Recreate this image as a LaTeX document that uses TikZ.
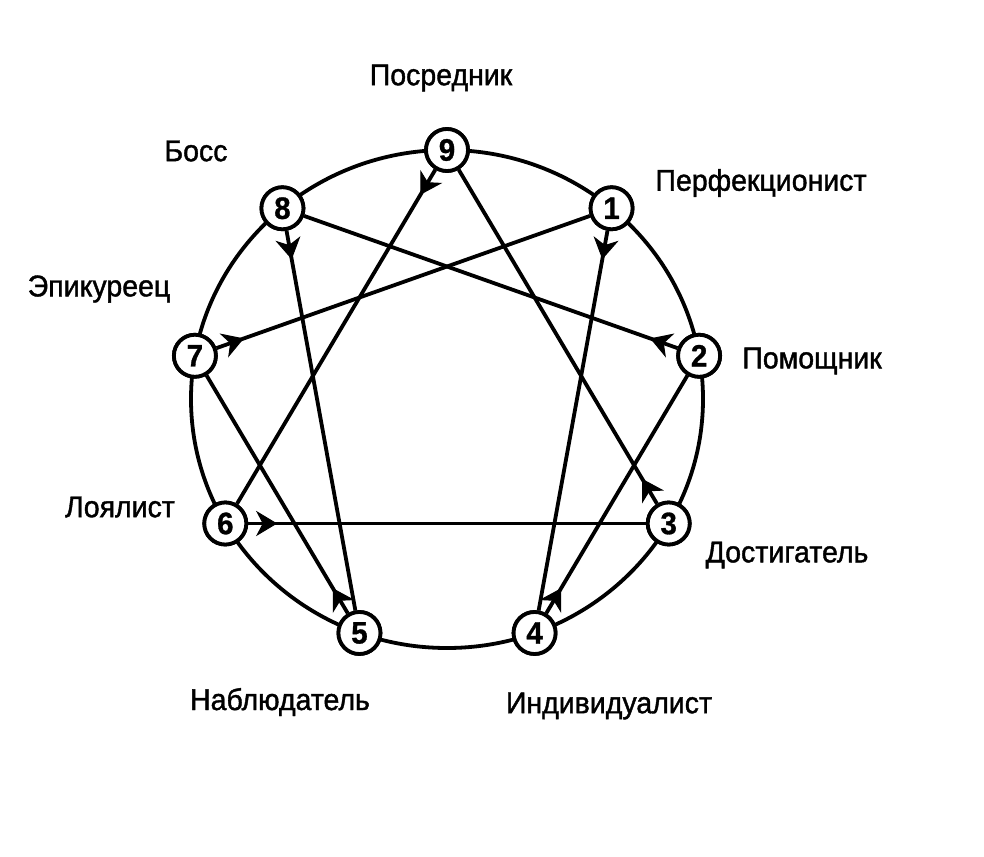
\documentclass[tikz,border=0pt]{standalone}
\usepackage{fontspec}
\setmainfont{Liberation Sans}[FakeStretch=0.95,FakeBold=1.3]
\newfontfamily\digitfont{Liberation Sans}[FakeStretch=0.95,FakeBold=1.0]
\usetikzlibrary{arrows.meta,calc}
\begin{document}
\begin{tikzpicture}[x=1pt,y=-1pt,
  numnode/.style={circle,draw,line width=3.8pt,fill=white,minimum size=42pt,inner sep=0pt,font=\digitfont\bfseries\fontsize{31}{31}\selectfont},
  lbl/.style={font=\fontsize{30}{30}\selectfont,inner sep=0pt},
  link/.style={line width=3.8pt},
  headshape/.style={line width=1pt,fill=black,line join=miter}]
\useasboundingbox (0,0) rectangle (984,856);
\draw[line width=3.8pt] (447,399) ellipse [x radius=256, y radius=249];
\foreach \n/\a in {9/0,1/40,2/80,3/120,4/160,5/200,6/240,7/280,8/320}{
  \node[numnode] (n\n) at ({447+256*sin(\a)},{399-249*cos(\a)}) {\n};
}
\foreach \s/\t/\L in {1/4/432,4/2/322,2/8/442,8/5/432,5/7/322,7/1/442,9/6/434,6/3/444,3/9/434}{
  \draw[link] (n\s) -- (n\t);
  \pgfmathsetmacro\ftp{51/\L}
  \pgfmathsetmacro\fbk{32/\L}
  \pgfmathsetmacro\fin{38/\L}
  \coordinate (tp) at ($(n\s.center)!\ftp!(n\t.center)$);
  \coordinate (bk) at ($(n\s.center)!\fbk!(n\t.center)$);
  \coordinate (in) at ($(n\s.center)!\fin!(n\t.center)$);
  \draw[headshape] (tp) -- ($(bk)!0.6!90:(tp)$) -- (in) -- ($(bk)!0.6!-90:(tp)$) -- cycle;
}
\foreach \n in {1,...,9}{\node[numnode] at (n\n) {\n};}
\node[lbl] (l9) at (441,78) {Посредник};
\node[lbl] (l8) at (196,151) {Босс};
\node[lbl] (l1) at (761,183) {Перфекционист};
\node[lbl] (l7) at (99,289) {Эпикуреец};
\node[lbl] (l2) at (812,361) {Помощник};
\node[lbl] (l6) at (120,507) {Лоялист};
\node[lbl] (l3) at (787,555) {Достигатель};
\node[lbl] (l5) at (280,702) {Наблюдатель};
\node[lbl] (l4) at (609,706) {Индивидуалист};
\end{tikzpicture}
\end{document}
